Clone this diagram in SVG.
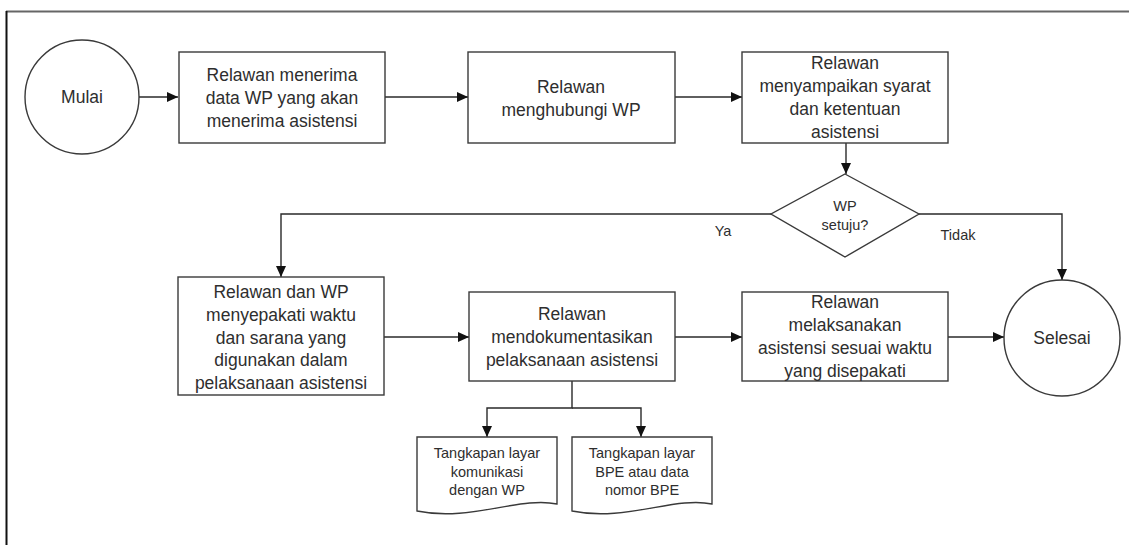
<svg xmlns="http://www.w3.org/2000/svg" width="1129" height="545" viewBox="0 0 1129 545">
<defs>
<style>
.shape{fill:#fff;stroke:#3a3a3a;stroke-width:1.4}
.conn{fill:none;stroke:#2a2a2a;stroke-width:1.4}
text{font-family:"Liberation Sans",Arial,sans-serif;fill:#2e2e2e;text-anchor:middle}
.t{font-size:17.5px}
.s{font-size:14.5px}
</style>
<marker id="ah" markerUnits="userSpaceOnUse" markerWidth="12" markerHeight="10" refX="11" refY="5" orient="auto">
<path d="M0,0 L11,5 L0,10 Z" fill="#111"/>
</marker>
</defs>
<rect width="1129" height="545" fill="#fff"/>
<g id="frame">
<line x1="6" y1="11.5" x2="1129" y2="11.5" stroke="#666" stroke-width="2"/>
<line x1="6.5" y1="11" x2="6.5" y2="545" stroke="#111" stroke-width="2"/>
</g>
<g id="connectors">
<path class="conn" d="M139,97 H178" marker-end="url(#ah)"/>
<path class="conn" d="M385,97 H468" marker-end="url(#ah)"/>
<path class="conn" d="M675,97 H742" marker-end="url(#ah)"/>
<path class="conn" d="M846,143 V174" marker-end="url(#ah)"/>
<path class="conn" d="M771,214 H281 V277" marker-end="url(#ah)"/>
<path class="conn" d="M919,214 H1062 V280" marker-end="url(#ah)"/>
<path class="conn" d="M384,337 H469" marker-end="url(#ah)"/>
<path class="conn" d="M675,337 H742" marker-end="url(#ah)"/>
<path class="conn" d="M948,337 H1004" marker-end="url(#ah)"/>
<path class="conn" d="M572,381 V408 H487 V437" marker-end="url(#ah)"/>
<path class="conn" d="M572,408 H641 V437" marker-end="url(#ah)"/>
<text class="s" x="723" y="236">Ya</text>
<text class="s" x="958" y="240">Tidak</text>
</g>
<g id="mulai">
<circle class="shape" cx="82" cy="97" r="57"/>
<text class="t" x="82" y="103">Mulai</text>
</g>
<g id="box1">
<rect class="shape" x="179" y="52" width="206" height="91"/>
<text class="t" x="282" y="81">Relawan menerima</text>
<text class="t" x="282" y="104">data WP yang akan</text>
<text class="t" x="282" y="127">menerima asistensi</text>
</g>
<g id="box2">
<rect class="shape" x="468" y="52" width="207" height="91"/>
<text class="t" x="571" y="93">Relawan</text>
<text class="t" x="571" y="116">menghubungi WP</text>
</g>
<g id="box3">
<rect class="shape" x="742" y="52" width="206" height="91"/>
<text class="t" x="845" y="69">Relawan</text>
<text class="t" x="845" y="92">menyampaikan syarat</text>
<text class="t" x="845" y="115">dan ketentuan</text>
<text class="t" x="845" y="138">asistensi</text>
</g>
<g id="decision">
<polygon class="shape" points="845,174 919,214 845,257 771,214"/>
<text class="s" x="845" y="211">WP</text>
<text class="s" x="845" y="230">setuju?</text>
</g>
<g id="box4">
<rect class="shape" x="178" y="277" width="206" height="118"/>
<text class="t" x="281" y="298">Relawan dan WP</text>
<text class="t" x="281" y="321">menyepakati waktu</text>
<text class="t" x="281" y="344">dan sarana yang</text>
<text class="t" x="281" y="366">digunakan dalam</text>
<text class="t" x="281" y="389">pelaksanaan asistensi</text>
</g>
<g id="box5">
<rect class="shape" x="469" y="292" width="206" height="89"/>
<text class="t" x="572" y="320">Relawan</text>
<text class="t" x="572" y="343">mendokumentasikan</text>
<text class="t" x="572" y="366">pelaksanaan asistensi</text>
</g>
<g id="box6">
<rect class="shape" x="742" y="292" width="206" height="89"/>
<text class="t" x="845" y="308">Relawan</text>
<text class="t" x="845" y="331">melaksanakan</text>
<text class="t" x="845" y="354">asistensi sesuai waktu</text>
<text class="t" x="845" y="377">yang disepakati</text>
</g>
<g id="selesai">
<circle class="shape" cx="1062" cy="338" r="58"/>
<text class="t" x="1062" y="344">Selesai</text>
</g>
<g id="doc1">
<path class="shape" d="M417,437 H557 V504 C520,496 470,522 417,511 Z"/>
<text class="s" x="487" y="458">Tangkapan layar</text>
<text class="s" x="487" y="477">komunikasi</text>
<text class="s" x="487" y="495">dengan WP</text>
</g>
<g id="doc2">
<path class="shape" d="M572,437 H712 V504 C675,496 625,522 572,511 Z"/>
<text class="s" x="642" y="458">Tangkapan layar</text>
<text class="s" x="642" y="477">BPE atau data</text>
<text class="s" x="642" y="495">nomor BPE</text>
</g>
</svg>
